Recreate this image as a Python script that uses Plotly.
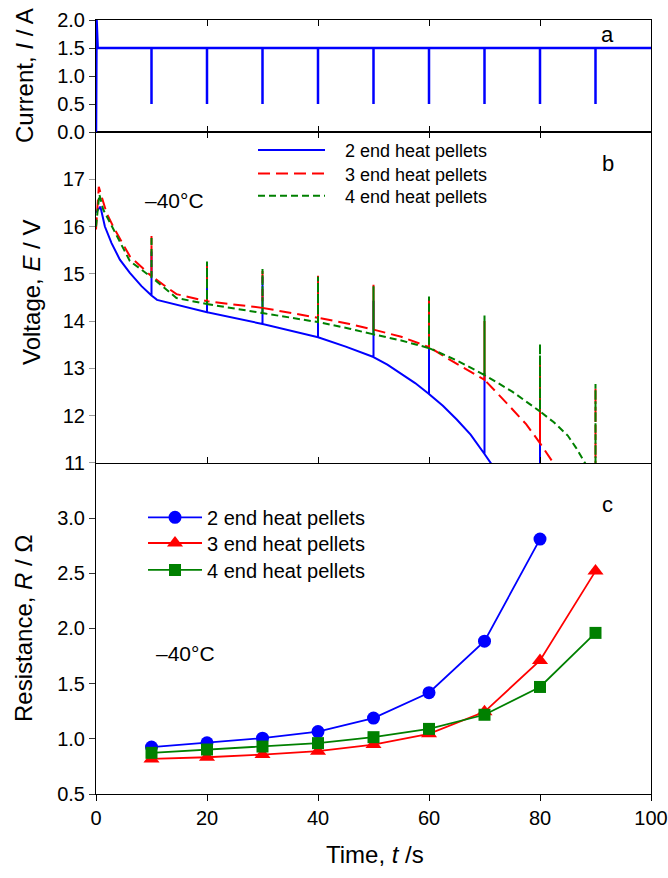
import plotly.graph_objects as go

# ---------------- data ----------------
# Panel a: current
cur_base_t = [0.0, 0.1, 0.3, 100.0]
cur_base_i = [0.0, 2.0, 1.5, 1.5]
pulse_times = [10, 20, 30, 40, 50, 60, 70, 80, 90]
pulse_current = 0.5

# Panel b: voltage base curves
blue_t = [0, 0.8, 1.6, 2.8, 4.3, 6.1, 8.2, 10, 11, 15, 20, 30, 40, 45, 50, 52.5, 55, 57.5,
          60, 62.5, 65, 67.5, 70, 72, 76, 80]
blue_v = [16.3, 16.42, 16.0, 15.65, 15.3, 15.02, 14.74, 14.54, 14.45, 14.33, 14.19, 13.94, 13.66,
          13.46, 13.24, 13.08, 12.89, 12.69, 12.46, 12.21, 11.92, 11.6, 11.19, 10.85, 10.0, 9.0]
blue_pulse_t = [10, 20, 30, 40, 50, 60, 70, 80]
blue_pulse_top = [15.47, 15.15, 14.94, 14.73, 14.43, 13.88, 12.9, 11.74]

red_t = [0, 0.5, 1.0, 1.9, 3.1, 6.1, 10, 14.5, 20, 30, 40, 45.7, 50, 55, 60, 63.8, 67.5, 70,
         74.6, 77.5, 80, 82.4, 86, 90]
red_v = [15.94, 16.84, 16.64, 16.29, 16.0, 15.37, 14.95, 14.57, 14.42, 14.28, 14.07, 13.94, 13.82,
         13.67, 13.45, 13.18, 12.94, 12.76, 12.19, 11.82, 11.42, 11.0, 10.5, 10.1]
red_pulse_t = [10, 20, 30, 40, 50, 60, 70, 80, 90]
red_pulse_top = [15.8, 15.25, 15.12, 14.96, 14.77, 14.5, 14.0, 13.13, 12.6]

green_t = [0, 0.6, 1.3, 3.1, 6.1, 10, 14.5, 20, 30, 40, 45.7, 50, 55, 60, 65, 70, 75, 80,
           82.5, 85, 86.5, 88.1, 90]
green_v = [16.0, 16.68, 16.36, 15.94, 15.27, 14.93, 14.49, 14.36, 14.17, 13.98, 13.84, 13.72,
           13.59, 13.43, 13.17, 12.86, 12.51, 12.09, 11.86, 11.58, 11.32, 11.0, 10.7]
green_pulse_t = [10, 20, 30, 40, 50, 60, 70, 80, 90]
green_pulse_top = [15.8, 15.26, 15.1, 14.94, 14.74, 14.52, 14.12, 13.52, 12.67]

# Panel c: resistance
res_t2 = [10, 20, 30, 40, 50, 60, 70, 80]
res_r2 = [0.925, 0.964, 1.006, 1.066, 1.188, 1.418, 1.885, 2.81]
res_t3 = [10, 20, 30, 40, 50, 60, 70, 80, 90]
res_r3 = [0.818, 0.833, 0.857, 0.888, 0.948, 1.045, 1.245, 1.71, 2.52]
res_t4 = [10, 20, 30, 40, 50, 60, 70, 80, 90]
res_r4 = [0.873, 0.903, 0.930, 0.961, 1.015, 1.09, 1.218, 1.47, 1.96]

series_names = ["2 end heat pellets", "3 end heat pellets", "4 end heat pellets"]
x_ticks = [0, 20, 40, 60, 80, 100]
cur_ticks = [0.0, 0.5, 1.0, 1.5, 2.0]
volt_ticks = [11, 12, 13, 14, 15, 16, 17]
res_ticks = [0.5, 1.0, 1.5, 2.0, 2.5, 3.0]


def with_pulses(ts, vs, pts, tops):
    """Insert vertical pulse excursions into a base curve (pulse times lie on base points)."""
    out_t, out_v = [], []
    top_of = dict(zip(pts, tops))
    for t, v in zip(ts, vs):
        out_t.append(t)
        out_v.append(v)
        if t in top_of:
            out_t += [t, t]
            out_v += [top_of[t], v]
    return out_t, out_v


def current_path(ts, cs, pts, low):
    pairs = sorted(list(zip(ts, cs)) + [(p, None) for p in pts], key=lambda p: p[0])
    out_t, out_i = [], []
    level = cs[-1]
    for t, c in pairs:
        if c is None:
            out_t += [t, t, t]
            out_i += [level, low, level]
        else:
            out_t.append(t)
            out_i.append(c)
    return out_t, out_i


FONT = "Liberation Sans, Arial, sans-serif"
BLUE, RED, GREEN = "#0000ff", "#ff0000", "#008000"
PAD = "\u00a0\u00a0\u00a0"

fig = go.Figure()

# Panel a
ct, ci = current_path(cur_base_t, cur_base_i, pulse_times, pulse_current)
fig.add_trace(go.Scatter(x=ct, y=ci, mode="lines", line=dict(color=BLUE, width=2.5),
                         xaxis="x3", yaxis="y3", showlegend=False))

# Panel b
bt, bv = with_pulses(blue_t, blue_v, blue_pulse_t, blue_pulse_top)
rt, rv = with_pulses(red_t, red_v, red_pulse_t, red_pulse_top)
gt, gv = with_pulses(green_t, green_v, green_pulse_t, green_pulse_top)
fig.add_trace(go.Scatter(x=bt, y=bv, mode="lines", name=PAD + series_names[0],
                         line=dict(color=BLUE, width=2), xaxis="x2", yaxis="y2", legend="legend"))
fig.add_trace(go.Scatter(x=rt, y=rv, mode="lines", name=PAD + series_names[1],
                         line=dict(color=RED, width=2, dash="12px,6px"), xaxis="x2", yaxis="y2",
                         legend="legend3"))
fig.add_trace(go.Scatter(x=gt, y=gv, mode="lines", name=PAD + series_names[2],
                         line=dict(color=GREEN, width=2, dash="7px,4px"), xaxis="x2", yaxis="y2",
                         legend="legend4"))

# Panel c
fig.add_trace(go.Scatter(x=res_t2, y=res_r2, mode="lines+markers", name=series_names[0],
                         line=dict(color=BLUE, width=1.8),
                         marker=dict(symbol="circle", size=13, color=BLUE),
                         xaxis="x", yaxis="y", legend="legend2"))
fig.add_trace(go.Scatter(x=res_t3, y=res_r3, mode="lines+markers", name=series_names[1],
                         line=dict(color=RED, width=1.8),
                         marker=dict(symbol="triangle-up", size=14, color=RED),
                         xaxis="x", yaxis="y", legend="legend5"))
fig.add_trace(go.Scatter(x=res_t4, y=res_r4, mode="lines+markers", name=series_names[2],
                         line=dict(color=GREEN, width=1.8),
                         marker=dict(symbol="square", size=12, color=GREEN),
                         xaxis="x", yaxis="y", legend="legend6"))

dom_c = [0.0, 0.4277]
dom_b = [0.4277, 0.8553]
dom_a = [0.8553, 1.0]

common_x = dict(range=[0, 100], tickvals=x_ticks, showgrid=False, zeroline=False,
                showline=True, linecolor="black", linewidth=1, ticklen=6, automargin=False,
                tickcolor="black", tickfont=dict(family=FONT, size=20, color="black"))
common_y = dict(showgrid=False, zeroline=False, showline=True, linecolor="black",
                linewidth=1, mirror=True, ticks="outside", ticklen=6, tickcolor="#333",
                automargin=False, tickfont=dict(family=FONT, size=20, color="black"))


def leg(x, y, w, size):
    return dict(x=x, y=y, xanchor="left", yanchor="middle", bgcolor="rgba(0,0,0,0)",
                borderwidth=0, itemwidth=w, font=dict(family=FONT, size=size, color="black"))


fig.update_layout(
    width=668, height=878,
    margin=dict(l=96, r=17, t=20, b=84, autoexpand=False),
    paper_bgcolor="white", plot_bgcolor="white",
    font=dict(family=FONT, color="black"),
    xaxis=dict(**common_x, domain=[0, 1], anchor="y", ticks="outside", showticklabels=True),
    xaxis4=dict(**common_x, domain=[0, 1], anchor="y", overlaying="x", side="top",
                ticks="inside", showticklabels=False),
    xaxis2=dict(**common_x, domain=[0, 1], anchor="y2", matches="x", ticks="inside",
                mirror="ticks", showticklabels=False),
    xaxis3=dict(**common_x, domain=[0, 1], anchor="y3", matches="x", ticks="inside",
                mirror="ticks", showticklabels=False),
    yaxis=dict(**common_y, domain=dom_c, anchor="x", range=[0.5, 3.5], tickvals=res_ticks,
               tickformat=".1f"),
    yaxis2=dict(**{**common_y, "tickcolor": "#999"}, domain=dom_b, anchor="x2", range=[11, 18],
                tickvals=volt_ticks),
    yaxis3=dict(**common_y, domain=dom_a, anchor="x3", range=[0, 2], tickvals=cur_ticks,
                tickformat=".1f"),
    legend=leg(0.2829, 0.8318, 67, 18),
    legend3=leg(0.2829, 0.8013, 67, 18),
    legend4=leg(0.2829, 0.7727, 67, 18),
    legend2=leg(0.0847, 0.3575, 54, 20),
    legend5=leg(0.0847, 0.3243, 54, 20),
    legend6=leg(0.0847, 0.2895, 54, 20),
    showlegend=True,
)

ann = []
def label(text, x, y, size, angle=0):
    ann.append(dict(text=text, x=x, y=y, xref="paper", yref="paper", showarrow=False,
                    xanchor="center", yanchor="middle", textangle=angle,
                    font=dict(family=FONT, size=size, color="black")))

label("Current, <i>I</i> / A", -0.1297, 0.9276, 24, -90)
label("Voltage, <i>E</i> / V", -0.1153, 0.6473, 24, -90)
label("Resistance, <i>R</i> / Ω", -0.1297, 0.2132, 24, -90)
label("Time, <i>t</i> /s", 0.502, -0.0788, 24)
label("a", 0.9216, 0.9819, 22)
label("b", 0.9225, 0.8152, 22)
label("c", 0.9225, 0.3734, 22)
label("\u201340\u00b0C", 0.1423, 0.7674, 21)
label("\u201340\u00b0C", 0.1604, 0.1809, 21)
fig.update_layout(annotations=ann)

fig.write_html("out.html", config={"displayModeBar": False},
               post_script="document.body.style.margin='0';document.body.style.overflow='hidden';")
